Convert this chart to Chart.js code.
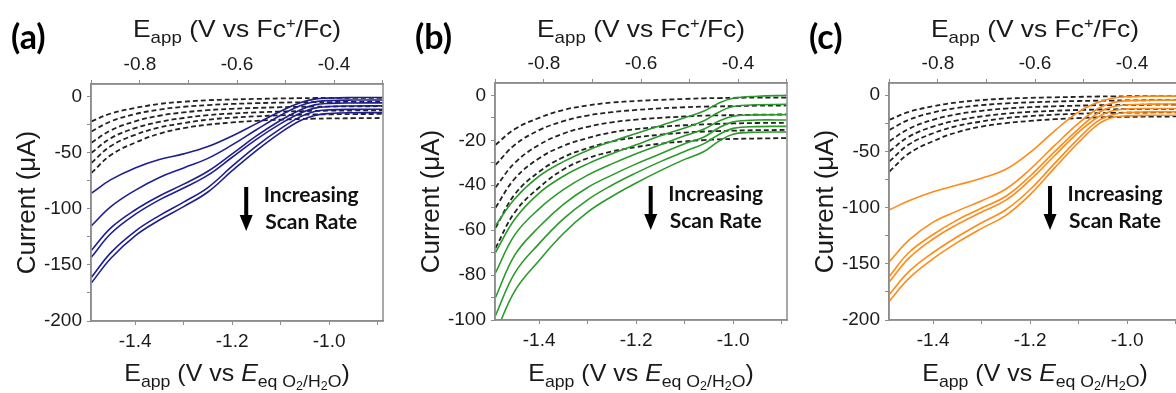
<!DOCTYPE html>
<html>
<head>
<meta charset="utf-8">
<script src="https://cdn.jsdelivr.net/npm/chart.js@4.4.1/dist/chart.umd.min.js"></script>
<style>
  html, body { margin: 0; padding: 0; background: #fff; overflow: hidden; }
  body { width: 1176px; height: 393px; position: relative; }
  canvas { position: absolute; top: 0; }
</style>
</head>
<body>
<canvas id="panelA" width="392" height="393" style="left:0px"></canvas>
<canvas id="panelB" width="392" height="393" style="left:404px"></canvas>
<canvas id="panelC" width="392" height="393" style="left:798px"></canvas>
<script>
// applied potential (V vs Eeq O2/H2O), shared by every trace
const potential = [-1.49, -1.45, -1.40, -1.35, -1.30, -1.25, -1.20, -1.15, -1.10, -1.06, -1.03, -1.00, -0.95, -0.89];

// dashed background scans (uA), same in all three panels
const blankScans = [
  [-22, -15, -10, -6.5, -4.5, -3.2, -2.5, -2, -1.6, -1.3, -1.2, -1.1, -1, -1],
  [-31, -22, -15.5, -11.5, -9, -7.5, -6.5, -5.8, -5.3, -5, -4.9, -4.8, -4.6, -4.5],
  [-41, -30, -22, -17, -14, -12, -10.8, -10, -9.4, -9, -8.9, -8.8, -8.6, -8.5],
  [-50, -37, -28, -22.5, -19, -16.5, -15, -14, -13.3, -12.9, -12.7, -12.5, -12.3, -12.2],
  [-59, -44, -34, -27.5, -23.5, -20.5, -18.7, -17.5, -16.6, -16.1, -15.9, -15.7, -15.5, -15.4],
  [-68, -52, -41, -33, -28, -25, -23, -21.5, -20.5, -19.9, -19.6, -19.4, -19.2, -19],
];

// (a) blue scans
const blueScans = [
  [-86, -74, -63.5, -56, -51, -44.5, -35, -24, -13, -5.5, -2.2, -1.2, -0.8, -0.7],
  [-115, -98, -83.5, -72, -63.5, -55, -43, -29.5, -16.5, -8, -4.5, -3.4, -3, -3],
  [-137, -117, -101, -88.5, -78, -66.5, -51, -35, -21, -11.8, -7.3, -6, -5.6, -5.5],
  [-143, -122, -105, -92, -81.5, -70, -54, -38, -24, -14.8, -10.2, -8.8, -8.3, -8.2],
  [-161, -139, -120, -106, -94, -81, -62, -44, -28.5, -18, -13.2, -11.8, -11.3, -11.2],
  [-166, -144, -124, -110, -98, -85, -66, -48, -32, -21.5, -16.7, -15, -14.3, -14.2],
];

// (b) green scans
const greenScans = [
  [-58, -46, -36, -29.5, -24.5, -20.5, -17, -13.5, -10, -7, -3.5, -1.3, -0.4, 0],
  [-70, -55, -43.5, -36, -30.5, -26, -22, -18, -14.5, -11.3, -7.5, -5, -4.2, -4],
  [-79, -62, -50.5, -42, -35.5, -30.5, -26, -22, -18, -15, -11.5, -9.3, -8.7, -8.6],
  [-90, -71, -58.5, -48.5, -41, -35.5, -30.5, -26, -21.5, -18.5, -14.5, -11.8, -11, -11],
  [-98, -79, -66, -55, -46.5, -40, -34.5, -29.5, -25, -21.5, -17.5, -14.7, -13.9, -13.8],
  [-106, -87, -73.5, -61.5, -52, -45, -39, -33.5, -28.5, -25, -20.5, -17.3, -16.4, -16.3],
];

// (c) orange scans
const orangeScans = [
  [-102, -94, -86, -80, -74, -66, -51, -32, -15, -6.5, -2.8, -1.5, -1, -1],
  [-148, -129, -113, -103, -94, -83.5, -66, -45, -25, -12, -6.8, -5.1, -4.6, -4.5],
  [-161, -140, -124, -111, -100.5, -90, -72, -50.5, -30, -16, -10.5, -8.7, -8.1, -8],
  [-166, -145, -128, -115, -104, -93.5, -75.5, -54, -33, -19.5, -14, -12.3, -12, -12],
  [-177, -157, -140, -126, -113.5, -102, -84, -61, -38.5, -23, -17.5, -15.5, -15, -15],
  [-183, -163, -145.5, -131, -118.5, -107, -88.5, -65, -42, -26, -20, -18.5, -18, -18],
];

// labelled ticks
const bottomTicks = [-1.4, -1.2, -1.0];
const topTicks = [-0.8, -0.6, -0.4];
const yTicksWide = [0, -50, -100, -150, -200];
const yTicksNarrow = [0, -20, -40, -60, -80, -100];

Chart.defaults.font.family = "'Liberation Sans', Arial, sans-serif";
Chart.defaults.color = "#1a1a1a";

const axisGray = "#8c8c8c";

function labelIf(list, digits) {
  return (v) => (list.some((t) => Math.abs(t - v) < 1e-6) ? v.toFixed(digits) : "");
}

function drawRich(ctx, parts, cx, baseline, stretch) {
  let total = 0;
  parts.forEach((p) => {
    ctx.font = (p[3] ? "italic " : "") + p[1] + "px 'Liberation Sans', Arial, sans-serif";
    p.w = ctx.measureText(p[0]).width;
    total += p.w;
  });
  ctx.save();
  ctx.translate(cx, baseline);
  ctx.scale(stretch, 1);
  ctx.textBaseline = "alphabetic";
  ctx.textAlign = "left";
  let x = -total / 2;
  parts.forEach((p) => {
    ctx.font = (p[3] ? "italic " : "") + p[1] + "px 'Liberation Sans', Arial, sans-serif";
    ctx.fillText(p[0], x, p[2]);
    x += p.w;
  });
  ctx.restore();
}

const decorations = {
  id: "decorations",
  afterDraw(chart, args, opts) {
    const { ctx, chartArea: ca } = chart;
    const cx = (ca.left + ca.right) / 2;
    ctx.save();
    ctx.fillStyle = "#1a1a1a";

    // frame
    ctx.strokeStyle = axisGray;
    ctx.lineWidth = 1.5;
    ctx.strokeRect(ca.left, ca.top, ca.right - ca.left, ca.bottom - ca.top);

    // panel letter
    ctx.font = "bold 34px Lato, 'Open Sans', sans-serif";
    ctx.textBaseline = "middle";
    ctx.textAlign = "left";
    ctx.fillStyle = "#000";
    ctx.fillText(opts.letter, 11, 38);
    ctx.fillStyle = "#1a1a1a";

    // top axis title
    drawRich(ctx, [["E", 24, 0], ["app", 17, 6], [" (V vs Fc", 24, 0], ["+", 15, -9], ["/Fc)", 24, 0]], cx, 37, 1.1);

    // bottom axis title
    drawRich(ctx, [["E", 24, 0], ["app", 17, 6], [" (V vs ", 24, 0], ["E", 24, 0, true],
      ["eq O", 17, 6], ["2", 12, 9], ["/H", 17, 6], ["2", 12, 9], ["O", 17, 6], [")", 24, 0]],
      cx, 381, 1.04);

    // y axis title
    ctx.save();
    ctx.translate(35, (ca.top + ca.bottom) / 2);
    ctx.rotate(-Math.PI / 2);
    ctx.font = "26px 'Liberation Sans', Arial, sans-serif";
    ctx.textAlign = "center";
    ctx.textBaseline = "alphabetic";
    ctx.fillText("Current (\u03bcA)", 0, 0);
    ctx.restore();

    // scan rate arrow
    const ax = chart.scales.x.getPixelForValue(opts.arrowAt);
    const top = ca.top + 103, bottom = ca.top + 147;
    ctx.fillStyle = "#000";
    ctx.fillRect(ax - 2, top, 4, bottom - top - 14);
    ctx.beginPath();
    ctx.moveTo(ax - 6.5, bottom - 16);
    ctx.lineTo(ax + 6.5, bottom - 16);
    ctx.lineTo(ax, bottom);
    ctx.closePath();
    ctx.fill();
    ctx.font = "bold 21px Lato, 'Open Sans', sans-serif";
    ctx.textAlign = "center";
    ctx.textBaseline = "middle";
    ctx.fillStyle = "#111";
    ctx.fillText("Increasing", ax + 65, ca.top + 111);
    ctx.fillText("Scan Rate", ax + 65, ca.top + 138);
    ctx.restore();
  },
};

function makePanel(id, cfg) {
  const datasets = [];
  cfg.scans.forEach((ys) => {
    datasets.push({
      data: potential.map((x, i) => ({ x, y: ys[i] })),
      borderColor: cfg.color,
      borderWidth: 1.6,
      tension: 0.4,
      pointRadius: 0,
      fill: false,
    });
  });
  blankScans.forEach((ys) => {
    datasets.push({
      data: potential.map((x, i) => ({ x, y: ys[i] })),
      borderColor: "#222",
      borderWidth: 1.8,
      borderDash: [5, 3],
      tension: 0.4,
      pointRadius: 0,
      fill: false,
    });
  });

  const tickFont = { size: 19 };
  const grid = { drawOnChartArea: false, drawTicks: true, tickLength: 4, color: axisGray, lineWidth: 1 };
  const border = { color: axisGray, width: 1.5 };

  return new Chart(document.getElementById(id).getContext("2d"), {
    type: "line",
    data: { datasets },
    options: {
      responsive: false,
      animation: false,
      layout: { padding: { right: 9, left: 0, top: 0, bottom: 0 } },
      plugins: {
        legend: { display: false },
        tooltip: { enabled: false },
        decorations: { letter: cfg.letter, arrowAt: cfg.arrowAt },
      },
      scales: {
        x: {
          type: "linear",
          position: "bottom",
          min: -1.491,
          max: -0.889,
          ticks: { stepSize: 0.1, includeBounds: false, autoSkip: false, maxRotation: 0,
            padding: 5, font: tickFont, callback: labelIf(bottomTicks, 1) },
          grid, border,
          afterFit: (s) => { s.height = 393 - cfg.bottom; },
        },
        xTop: {
          type: "linear",
          position: "top",
          min: -0.901,
          max: -0.299,
          ticks: { stepSize: 0.1, includeBounds: false, autoSkip: false, maxRotation: 0,
            padding: 4, font: tickFont, callback: labelIf(topTicks, 1) },
          grid, border,
          afterFit: (s) => { s.height = cfg.top; },
        },
        y: {
          type: "linear",
          min: cfg.yMin,
          max: cfg.yMax,
          ticks: { stepSize: cfg.yStep, includeBounds: false, autoSkip: false,
            padding: 5, font: tickFont, callback: labelIf(cfg.yLabels, 0) },
          grid, border,
          afterFit: (s) => { s.width = 91; },
        },
      },
    },
    plugins: [decorations],
  });
}

makePanel("panelA", { letter: "(a)", scans: blueScans, color: "#1e1e90", yMin: -200, yMax: 11.3,
  yStep: 25, yLabels: yTicksWide, top: 84, bottom: 321, arrowAt: -1.171 });
makePanel("panelB", { letter: "(b)", scans: greenScans, color: "#2a9a2a", yMin: -100, yMax: 5.5,
  yStep: 10, yLabels: yTicksNarrow, top: 83, bottom: 320, arrowAt: -1.170 });
makePanel("panelC", { letter: "(c)", scans: orangeScans, color: "#ff8a17", yMin: -200, yMax: 10.7,
  yStep: 25, yLabels: yTicksWide, top: 83, bottom: 320, arrowAt: -1.159 });
</script>
</body>
</html>
